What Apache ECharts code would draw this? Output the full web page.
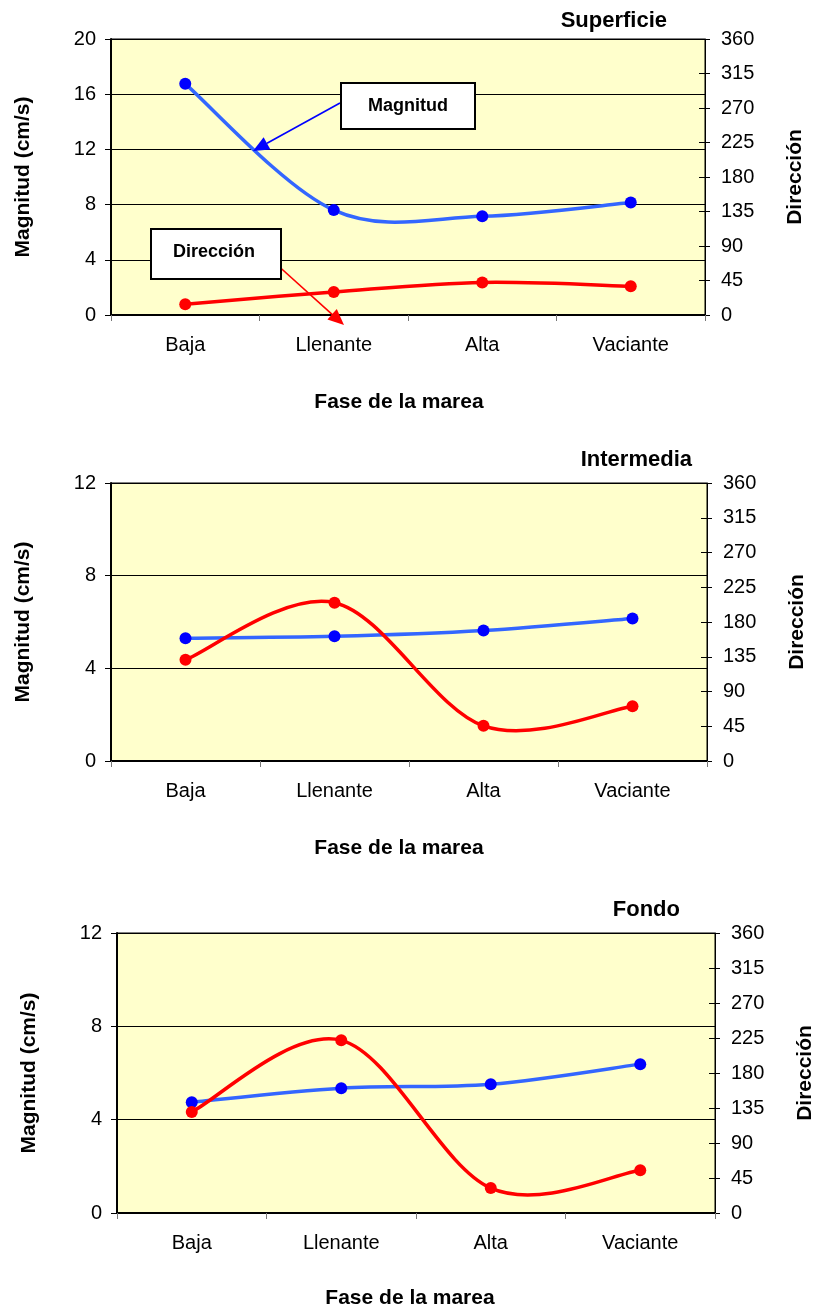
<!DOCTYPE html>
<html>
<head>
<meta charset="utf-8">
<script src="https://cdn.jsdelivr.net/npm/echarts@6/dist/echarts.min.js"></script>
<style>
html,body{margin:0;padding:0;background:#fff;}
#main{width:815px;height:1311px;}
</style>
</head>
<body>
<div id="main"></div>
<script>
// ---- data ----
const categories = ['Baja', 'Llenante', 'Alta', 'Vaciante'];
const panelTitles = ['Superficie', 'Intermedia', 'Fondo'];
const superficieMagnitud = [16.75, 7.6, 7.15, 8.15];
const superficieDireccion = [14, 30, 42.5, 37.5];
const intermediaMagnitud = [5.3, 5.38, 5.63, 6.15];
const intermediaDireccion = [131, 205, 45.5, 71];
const fondoMagnitud = [4.75, 5.35, 5.52, 6.38];
const fondoDireccion = [130, 222, 32, 55];
const magnitudMax = [20, 12, 12];
const magnitudInterval = 4;
const direccionMax = 360;
const direccionInterval = 45;
const magnitudName = 'Magnitud (cm/s)';
const direccionName = 'Dirección';
const xName = 'Fase de la marea';

const magnitudSeries = [superficieMagnitud, intermediaMagnitud, fondoMagnitud];
const direccionSeries = [superficieDireccion, intermediaDireccion, fondoDireccion];

// ---- layout ----
const FONT = 'Liberation Sans, Arial, sans-serif';
const grids = [
  {left: 111, top: 39, width: 594, height: 276},
  {left: 111, top: 483, width: 596, height: 278},
  {left: 117, top: 933, width: 598, height: 280}
];
const titlePos = [[667, 21], [692, 460], [680, 910]];
const xNamePos = [[399, 402], [399, 848], [410, 1298]];

const grid = [], xAxis = [], yAxis = [], series = [], graphic = [];

// Smooth (Catmull-Rom style, like a spreadsheet's smoothed line) curve through the data,
// positioned with the library's own axes via api.coord.
function smoothRenderer(values, color, width) {
  return function (params, api) {
    const i = params.dataIndex;
    const n = values.length;
    if (i >= n - 1) return null;
    const P = k => api.coord([Math.max(0, Math.min(n - 1, k)), values[Math.max(0, Math.min(n - 1, k))]]);
    const p0 = P(i - 1), p1 = P(i), p2 = P(i + 1), p3 = P(i + 2);
    const t = 1 / 6;
    return {
      type: 'bezierCurve',
      shape: {
        x1: p1[0], y1: p1[1], x2: p2[0], y2: p2[1],
        cpx1: p1[0] + (p2[0] - p0[0]) * t, cpy1: p1[1] + (p2[1] - p0[1]) * t,
        cpx2: p2[0] - (p3[0] - p1[0]) * t, cpy2: p2[1] - (p3[1] - p1[1]) * t
      },
      style: {stroke: color, lineWidth: width, fill: null, lineCap: 'round'}
    };
  };
}

grids.forEach((g, i) => {
  grid.push(Object.assign({show: true, backgroundColor: '#FFFFCC', borderColor: '#000', borderWidth: 1, containLabel: false, outerBoundsMode: 'none'}, g));
  xAxis.push({
    type: 'category', gridIndex: i, data: categories, boundaryGap: true,
    axisLine: {show: true, lineStyle: {color: '#000', width: 2}},
    axisTick: {show: true, length: 6, lineStyle: {color: '#777', width: 1}},
    axisLabel: {color: '#000', fontSize: 20, fontFamily: FONT, margin: 20},
    splitLine: {show: false}
  });
  const yl = yAxis.length;
  yAxis.push({
    type: 'value', gridIndex: i, position: 'left', min: 0, max: magnitudMax[i], interval: magnitudInterval,
    axisLine: {show: true, lineStyle: {color: '#000', width: 2}},
    axisTick: {show: true, length: 6, lineStyle: {color: '#000', width: 1}},
    axisLabel: {color: '#000', fontSize: 20, fontFamily: FONT, margin: 15},
    splitLine: {show: true, lineStyle: {color: '#000', width: 1}},
    name: magnitudName, nameLocation: 'middle', nameGap: 77,
    nameTextStyle: {color: '#000', fontSize: 21, fontWeight: 'bold', fontFamily: FONT}
  });
  yAxis.push({
    type: 'value', gridIndex: i, position: 'right', min: 0, max: direccionMax, interval: direccionInterval,
    axisLine: {show: true, lineStyle: {color: '#000', width: 1}},
    axisTick: {show: true, length: 5, lineStyle: {color: '#000', width: 1}},
    axisLabel: {color: '#000', fontSize: 20, fontFamily: FONT, margin: 16},
    splitLine: {show: false},
    name: direccionName, nameLocation: 'middle', nameGap: 80,
    nameTextStyle: {color: '#000', fontSize: 21, fontWeight: 'bold', fontFamily: FONT}
  });
  yAxis.push({
    type: 'value', gridIndex: i, position: 'right', min: 0, max: direccionMax, interval: direccionInterval,
    axisLine: {show: false},
    axisTick: {show: true, inside: true, length: 6, lineStyle: {color: '#000', width: 1}},
    axisLabel: {show: false},
    splitLine: {show: false}
  });
  const mag = magnitudSeries[i], dir = direccionSeries[i];
  series.push({
    type: 'custom', name: 'Magnitud', xAxisIndex: i, yAxisIndex: yl,
    data: mag.map((v, k) => [k, v]), encode: {x: 0, y: 1},
    renderItem: smoothRenderer(mag, '#3366FF', 3.5), z: 3, silent: true
  });
  series.push({
    type: 'custom', name: 'Dirección', xAxisIndex: i, yAxisIndex: yl + 1,
    data: dir.map((v, k) => [k, v]), encode: {x: 0, y: 1},
    renderItem: smoothRenderer(dir, '#FF0000', 3.5), z: 4, silent: true
  });
  series.push({
    type: 'scatter', xAxisIndex: i, yAxisIndex: yl, data: mag,
    symbol: 'circle', symbolSize: 12, itemStyle: {color: '#0000FF', opacity: 1}, z: 5
  });
  series.push({
    type: 'scatter', xAxisIndex: i, yAxisIndex: yl + 1, data: dir,
    symbol: 'circle', symbolSize: 12, itemStyle: {color: '#FF0000', opacity: 1}, z: 6
  });
  graphic.push({
    type: 'text', x: titlePos[i][0], y: titlePos[i][1], z: 10,
    style: {text: panelTitles[i], fill: '#000', font: 'bold 22px ' + FONT, textAlign: 'right', textVerticalAlign: 'middle'}
  });
  graphic.push({
    type: 'text', x: xNamePos[i][0], y: xNamePos[i][1], z: 10,
    style: {text: xName, fill: '#000', font: 'bold 21px ' + FONT, textAlign: 'center', textVerticalAlign: 'middle'}
  });
});

// ---- callouts (panel 1) ----
function arrow(x1, y1, x2, y2, color) {
  const dx = x2 - x1, dy = y2 - y1, len = Math.sqrt(dx * dx + dy * dy);
  const ux = dx / len, uy = dy / len, L = 16, W = 14;
  const bx = x2 - ux * L, by = y2 - uy * L;
  return [
    {type: 'line', z: 20, shape: {x1: x1, y1: y1, x2: bx, y2: by}, style: {stroke: color, lineWidth: 1.6}},
    {type: 'polygon', z: 20, shape: {points: [[x2, y2], [bx - uy * W / 2, by + ux * W / 2], [bx + uy * W / 2, by - ux * W / 2]]}, style: {fill: color}}
  ];
}
function callout(x, y, w, h, text, tx, ty) {
  return [
    {type: 'rect', z: 21, shape: {x: x, y: y, width: w, height: h}, style: {fill: '#fff', stroke: '#000', lineWidth: 2}},
    {type: 'text', z: 22, x: tx, y: ty, style: {text: text, fill: '#000', font: 'bold 18px ' + FONT, textAlign: 'center', textVerticalAlign: 'middle'}}
  ];
}
graphic.push(...arrow(340, 103, 253, 151, '#0000FF'));
graphic.push(...callout(341, 83, 134, 46, 'Magnitud', 408, 106));
graphic.push(...arrow(274, 262, 344, 325, '#FF0000'));
graphic.push(...callout(151, 229, 130, 50, 'Dirección', 214, 252));

const chart = echarts.init(document.getElementById('main'), null, {renderer: 'canvas', width: 815, height: 1311});
chart.setOption({
  animation: false,
  backgroundColor: '#fff',
  grid: grid, xAxis: xAxis, yAxis: yAxis, series: series, graphic: graphic
});
</script>
</body>
</html>
